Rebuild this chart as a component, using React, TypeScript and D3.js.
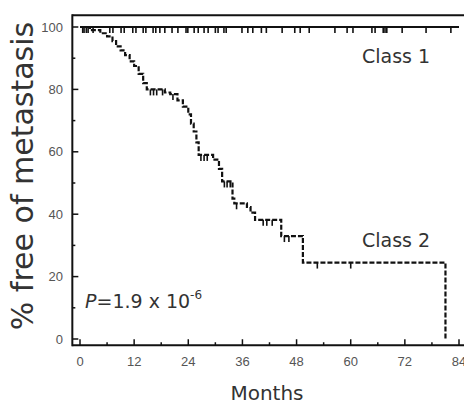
import * as d3 from "d3";

// Kaplan-Meier steps: [month, % free of metastasis]
const class1Steps: [number, number][] = [
  [0, 100],
  [84, 100],
];
const class1Censored = [
  0.9, 1.8, 2.9, 6.6, 7.3, 9.1, 9.8, 11.7, 12.4, 14, 14.6, 16.2, 16.8, 17.7,
  18.8, 20.4, 21.7, 23.5, 23.9, 25.3, 26.2, 27.5, 28.4, 30, 30.6, 31.9, 32.4,
  35.9, 37.2, 38.3, 40.2, 41.3, 44.8, 47.6, 48.8, 50.8, 56.5, 59.2, 60.5,
  64.7, 65.4, 67.2, 67.6, 68, 71.4, 76.7, 82.2,
];

const class2Steps: [number, number][] = [
  [0, 100],
  [2.2, 99],
  [4.5, 98],
  [6.0, 97],
  [7.2, 95.5],
  [8.0, 93.8],
  [9.0, 92.5],
  [10.0, 91],
  [11.0, 89],
  [12.0, 87.5],
  [13.0, 85],
  [14.0, 82],
  [14.8, 80],
  [18.8, 79],
  [20.0, 78.5],
  [21.6, 76.5],
  [22.8, 74.5],
  [24.0, 72],
  [24.6, 69],
  [25.2, 66.5],
  [25.8, 63],
  [26.3, 59],
  [29.5, 57.5],
  [30.8, 54.5],
  [31.5, 50.5],
  [33.8, 45],
  [34.2, 43.5],
  [37.0, 42.3],
  [37.8, 40.5],
  [38.8, 38.2],
  [44.6, 33],
  [49.4, 24.5],
  [81, 0],
];
const class2Censored = [
  0.6, 1.4, 15.6, 16.3, 17.0, 18.3, 20.6, 26.8, 27.5, 28.2, 32.0, 32.6, 33.3,
  34.7, 40.6, 41.4, 42.6, 45.3, 46.3, 52.6, 60.0,
];

const xTicks = [0, 12, 24, 36, 48, 60, 72, 84];
const xMinor = [6, 18, 30, 42, 54, 66, 78];
const yTicks = [0, 20, 40, 60, 80, 100];
const yMinor = [10, 30, 50, 70, 90];

const x = d3.scaleLinear().domain([0, 84]).range([80, 459]);
const y = d3.scaleLinear().domain([0, 100]).range([339, 27]);

const axisX = x(-1.7);
const axisY = y(-2);
const topY = y(103.8);

function levelAt(steps: [number, number][], m: number) {
  let v = steps[0][1];
  for (const s of steps) if (s[0] <= m) v = s[1];
  return v;
}

const line = d3
  .line<[number, number]>()
  .x((d) => x(d[0]))
  .y((d) => y(d[1]))
  .curve(d3.curveStepAfter);

export default function App() {
  const ink = "#111";
  return (
    <svg
      width={464}
      height={405}
      style={{ position: "absolute", left: 0, top: 0, background: "#fff" }}
    >
      {/* frame */}
      <g stroke={ink} strokeWidth={2} fill="none">
        <line x1={axisX} x2={470} y1={topY} y2={topY} />
        <line x1={axisX} x2={470} y1={axisY} y2={axisY} />
        <line x1={axisX} x2={axisX} y1={topY - 1} y2={axisY + 1} />
      </g>

      {/* ticks, all pointing inward */}
      <g stroke={ink} strokeWidth={1.5}>
        {xTicks.map((t) => (
          <line key={"xt" + t} x1={x(t)} x2={x(t)} y1={axisY} y2={axisY - 6} />
        ))}
        {xMinor.map((t) => (
          <line key={"xm" + t} x1={x(t)} x2={x(t)} y1={axisY} y2={axisY - 3} />
        ))}
        {yTicks.map((t) => (
          <line key={"yt" + t} x1={axisX} x2={axisX + 6} y1={y(t)} y2={y(t)} />
        ))}
        {yMinor.map((t) => (
          <line key={"ym" + t} x1={axisX} x2={axisX + 3} y1={y(t)} y2={y(t)} />
        ))}
      </g>

      <g fontFamily="Liberation Sans, Arial, sans-serif" fontSize={13} fill="#555">
        {xTicks.map((t) => (
          <text key={"xl" + t} x={x(t)} y={366} textAnchor="middle">
            {t}
          </text>
        ))}
        {yTicks.map((t) => (
          <text key={"yl" + t} x={63} y={y(t) + 4.5} textAnchor="end">
            {t}
          </text>
        ))}
      </g>

      {/* class 1 */}
      <path d={line(class1Steps) ?? ""} fill="none" stroke={ink} strokeWidth={2.2} />
      <g stroke={ink} strokeWidth={1.6}>
        {class1Censored.map((m, i) => {
          const v = y(levelAt(class1Steps, m));
          return <line key={"c1" + i} x1={x(m)} x2={x(m)} y1={v - 1} y2={v + 6} />;
        })}
      </g>

      {/* class 2 */}
      <path
        d={line(class2Steps) ?? ""}
        fill="none"
        stroke={ink}
        strokeWidth={2.2}
        strokeDasharray="5,2"
      />
      <g stroke={ink} strokeWidth={1.6}>
        {class2Censored.map((m, i) => {
          const v = y(levelAt(class2Steps, m));
          return <line key={"c2" + i} x1={x(m)} x2={x(m)} y1={v} y2={v + 6} />;
        })}
      </g>

      <g fontFamily="DejaVu Sans, Verdana, sans-serif" fill="#333">
        <text x={362} y={63} fontSize={19}>
          Class 1
        </text>
        <text x={362} y={247} fontSize={19}>
          Class 2
        </text>
        <text x={85} y={308} fontSize={19}>
          <tspan fontStyle="italic">P</tspan>=1.9 x 10
          <tspan dy={-9} fontSize={12}>
            -6
          </tspan>
        </text>
        <text x={267} y={400} fontSize={20} textAnchor="middle">
          Months
        </text>
        <text
          transform={`translate(33, 176) rotate(-90)`}
          fontSize={30}
          textAnchor="middle"
        >
          % free of metastasis
        </text>
      </g>
    </svg>
  );
}
